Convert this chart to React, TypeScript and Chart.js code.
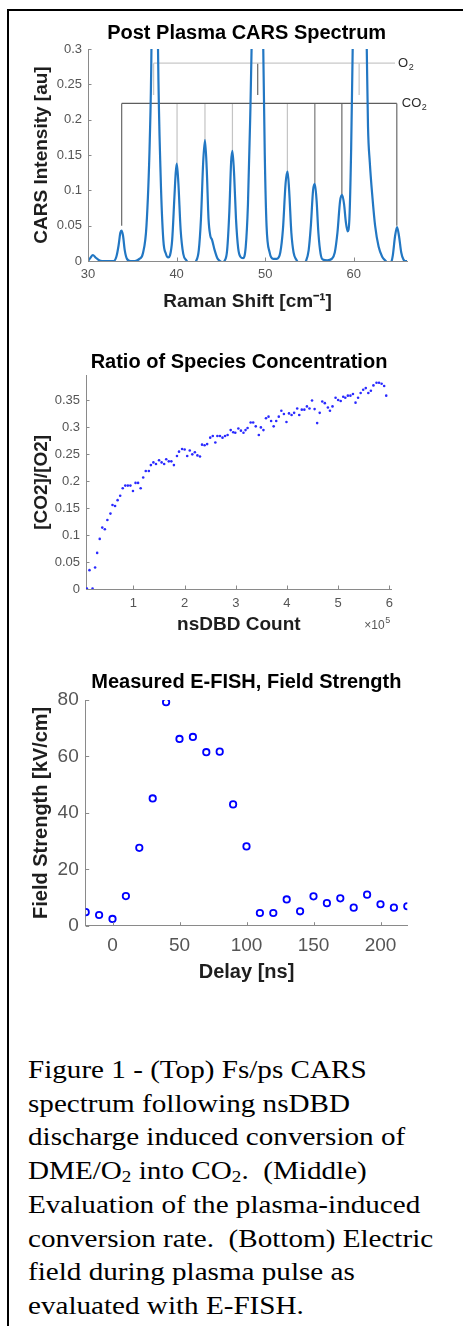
import React, { useEffect, useRef } from "react";
import { Chart, registerables } from "chart.js";

Chart.register(...registerables);

// ---------- Top: CARS spectrum ----------
const SPEC_SHIFT = [
  30.0, 30.25, 30.55, 30.85, 31.2, 31.6, 32.4, 32.9, 33.2, 33.45, 33.65, 33.78, 33.95, 34.15, 34.4, 34.8,
  35.3, 35.8, 36.2, 36.6, 36.97, 37.16, 37.5, 37.9, 38.2, 38.5, 38.8, 39.05, 39.25, 39.5, 39.75, 39.9,
  40.02, 40.2, 40.45, 40.75, 41.1, 41.5, 41.9, 42.2, 42.5, 42.75, 43.0, 43.2, 43.4, 43.6, 43.8, 44.0,
  44.3, 44.6, 44.9, 45.15, 45.4, 45.7, 45.95, 46.15, 46.3, 46.5, 46.7, 46.95, 47.2, 47.5, 47.8, 48.05,
  48.3, 48.46, 49.1, 49.78, 49.95, 50.15, 50.5, 50.9, 51.3, 51.7, 52.0, 52.3, 52.52, 52.7, 52.95, 53.2,
  53.5, 53.9, 54.3, 54.6, 54.9, 55.15, 55.4, 55.6, 55.8, 56.0, 56.25, 56.5, 57.0, 57.5, 57.85, 58.15,
  58.45, 58.68, 58.9, 59.1, 59.3, 59.5, 59.7, 59.87, 60.6, 61.46, 61.6, 61.8, 62.1, 62.4, 62.8, 63.2,
  63.6, 63.9, 64.2, 64.4, 64.65, 64.88, 65.1, 65.35, 65.6, 65.8, 66.0,
];
const SPEC_INTENSITY = [
  0, 0.004, 0.0085, 0.005, 0.0015, 0, 0, 0, 0.006, 0.022, 0.04, 0.043, 0.036, 0.015, 0.003, 0,
  0, 0.003, 0.011, 0.05, 0.17, 0.3, 0.9, 0.3, 0.12, 0.03, 0.01, 0.005, 0.008, 0.03, 0.09, 0.125,
  0.138, 0.11, 0.045, 0.01, 0.001, -0.004, -0.003, 0, 0.015, 0.06, 0.14, 0.171, 0.13, 0.06, 0.036, 0.03,
  0.015, 0.004, 0, -0.002, 0, 0.015, 0.07, 0.14, 0.156, 0.12, 0.06, 0.018, 0.006, 0.004, 0.02, 0.08,
  0.2, 0.3, 1.0, 0.3, 0.15, 0.05, 0.012, 0.003, 0.003, 0.012, 0.045, 0.11, 0.127, 0.1, 0.04, 0.012,
  0.002, -0.004, -0.003, 0, 0.015, 0.05, 0.1, 0.109, 0.085, 0.04, 0.01, 0.002, 0.001, 0.003, 0.012, 0.04,
  0.085, 0.0935, 0.08, 0.055, 0.042, 0.06, 0.16, 0.3, 1.0, 0.3, 0.19, 0.14, 0.09, 0.05, 0.02, 0.006,
  0, -0.004, -0.002, 0.008, 0.035, 0.048, 0.035, 0.012, 0.002, 0, 0,
];
const SPEC_X_TICKS = [30, 40, 50, 60];
const SPEC_Y_TICKS = [0, 0.05, 0.1, 0.15, 0.2, 0.25, 0.3];
const O2_MARKS = [37.4, 49.15, 60.6];
const O2_LEVEL = 0.28;
const O2_DROP = 0.235;
const O2_END = 64.65;
const CO2_MARKS = [33.8, 40.05, 43.2, 46.3, 52.5, 55.6, 58.65, 64.85];
const CO2_TOPS = [0.05, 0.138, 0.171, 0.156, 0.128, 0.11, 0.094, 0.05];
const CO2_LEVEL = 0.223;

// ---------- Middle: ratio of species ----------
const RATIO_COUNT = [
  0.09, 0.14, 0.2, 0.25, 0.29, 0.34, 0.39, 0.44, 0.49, 0.55, 0.59, 0.64, 0.69, 0.74, 0.79, 0.84,
  0.89, 0.94, 0.99, 1.04, 1.09, 1.14, 1.19, 1.24, 1.3, 1.34, 1.39, 1.44, 1.5, 1.55, 1.6, 1.64,
  1.69, 1.74, 1.79, 1.85, 1.89, 1.95, 2.0, 2.05, 2.1, 2.15, 2.2, 2.25, 2.3, 2.34, 2.39, 2.44,
  2.5, 2.55, 2.6, 2.64, 2.69, 2.74, 2.79, 2.84, 2.9, 2.95, 2.99, 3.05, 3.1, 3.15, 3.19, 3.23,
  3.29, 3.34, 3.39, 3.45, 3.49, 3.54, 3.59, 3.64, 3.69, 3.74, 3.79, 3.84, 3.89, 3.94, 3.99, 4.04,
  4.09, 4.14, 4.2, 4.24, 4.29, 4.34, 4.39, 4.44, 4.49, 4.54, 4.59, 4.64, 4.69, 4.74, 4.8, 4.84,
  4.89, 4.95, 5.0, 5.05, 5.1, 5.14, 5.19, 5.24, 5.29, 5.34, 5.39, 5.44, 5.49, 5.54, 5.59, 5.64,
  5.69, 5.75, 5.8, 5.85, 5.9, 5.94,
];
const RATIO_VALUE = [
  0.001, 0.035, 0.001, 0.04, 0.067, 0.093, 0.114, 0.111, 0.128, 0.14, 0.156, 0.154, 0.165, 0.173, 0.187, 0.192,
  0.192, 0.192, 0.182, 0.197, 0.197, 0.187, 0.207, 0.219, 0.219, 0.23, 0.235, 0.232, 0.239, 0.235, 0.232, 0.241,
  0.237, 0.237, 0.23, 0.247, 0.255, 0.26, 0.259, 0.247, 0.257, 0.25, 0.254, 0.248, 0.246, 0.268, 0.267, 0.269,
  0.281, 0.284, 0.272, 0.284, 0.284, 0.281, 0.284, 0.286, 0.295, 0.291, 0.29, 0.298, 0.294, 0.29, 0.295, 0.299,
  0.309, 0.309, 0.302, 0.286, 0.3, 0.295, 0.317, 0.32, 0.312, 0.302, 0.312, 0.32, 0.331, 0.325, 0.31, 0.326,
  0.323, 0.327, 0.335, 0.323, 0.333, 0.333, 0.339, 0.335, 0.35, 0.334, 0.308, 0.327, 0.348, 0.345, 0.337, 0.331,
  0.339, 0.355, 0.351, 0.349, 0.357, 0.355, 0.359, 0.359, 0.362, 0.346, 0.355, 0.364, 0.37, 0.373, 0.364, 0.368,
  0.378, 0.383, 0.383, 0.381, 0.377, 0.359,
];
const RATIO_X_TICKS = [1, 2, 3, 4, 5, 6];
const RATIO_Y_TICKS = [0, 0.05, 0.1, 0.15, 0.2, 0.25, 0.3, 0.35];

// ---------- Bottom: E-FISH ----------
const DELAY_NS = [-20, -10, 0, 10, 20, 30, 40, 50, 60, 70, 80, 90, 100, 110, 120, 130, 140, 150, 160, 170, 180, 190, 200, 210, 220];
const FIELD_KV = [4.8, 3.8, 2.4, 10.5, 27.6, 45.1, 79.2, 66.2, 66.9, 61.5, 61.7, 43.0, 28.1, 4.5, 4.5, 9.3, 5.1, 10.4, 8.0, 9.7, 6.4, 11.0, 7.6, 6.4, 6.9];
const DELAY_TICKS = [0, 50, 100, 150, 200];
const FIELD_TICKS = [0, 20, 40, 60, 80];

const CAPTION_LINES = [
  "Figure 1 - (Top) Fs/ps CARS",
  "spectrum following nsDBD",
  "discharge induced conversion of",
  "DME/O|2| into CO|2|.\u00a0 (Middle)",
  "Evaluation of the plasma-induced",
  "conversion rate.\u00a0 (Bottom) Electric",
  "field during plasma pulse as",
  "evaluated with E-FISH.",
];

const FONT = "'Liberation Sans', Arial, Helvetica, sans-serif";
Chart.defaults.font.family = FONT;

const TICK_C = "#555555";
const AXIS_C = "#8a8a8a";
const LABEL_C = "#1e1e1e";

const fixedTicks = (vals: number[]) => (axis: any) => {
  axis.ticks = vals.map((value) => ({ value }));
};
const setW = (w: number) => (s: any) => {
  s.width = w;
};
const setH = (h: number) => (s: any) => {
  s.height = h;
};

const innerTicks = (len: number) => ({
  id: "innerTicks",
  afterDatasetsDraw(chart: any) {
    const { ctx, chartArea } = chart;
    const xs = chart.scales.x;
    const ys = chart.scales.y;
    ctx.save();
    ctx.strokeStyle = AXIS_C;
    ctx.lineWidth = 1;
    ctx.beginPath();
    xs.ticks.forEach((t: any) => {
      const p = Math.round(xs.getPixelForValue(t.value)) + 0.5;
      ctx.moveTo(p, chartArea.bottom);
      ctx.lineTo(p, chartArea.bottom - len);
    });
    ys.ticks.forEach((t: any) => {
      const p = Math.round(ys.getPixelForValue(t.value)) + 0.5;
      ctx.moveTo(chartArea.left, p);
      ctx.lineTo(chartArea.left + len, p);
    });
    ctx.stroke();
    ctx.restore();
  },
});

function axisX(opt: any) {
  return {
    type: "linear",
    min: opt.min,
    max: opt.max,
    afterBuildTicks: fixedTicks(opt.ticks),
    afterFit: setH(opt.height),
    ticks: { color: TICK_C, font: { size: opt.tickSize }, padding: opt.tickPad, maxRotation: 0, autoSkip: false, callback: (v: any) => String(v) },
    grid: { display: false, drawTicks: false },
    border: { display: true, color: AXIS_C, width: 1 },
    title: { display: true, text: opt.title, color: LABEL_C, font: { size: opt.titleSize, weight: "bold" }, padding: { top: 0, bottom: opt.titlePad } },
  };
}
function axisY(opt: any) {
  return {
    type: "linear",
    position: "left",
    min: opt.min,
    max: opt.max,
    afterBuildTicks: fixedTicks(opt.ticks),
    afterFit: setW(opt.width),
    ticks: { color: TICK_C, font: { size: opt.tickSize }, padding: opt.tickPad, autoSkip: false, callback: (v: any) => String(v) },
    grid: { display: false, drawTicks: false },
    border: { display: true, color: AXIS_C, width: 1 },
    title: { display: true, text: opt.title, color: LABEL_C, font: { size: opt.titleSize, weight: "bold" }, padding: { top: 0, bottom: 0 } },
  };
}
function spacer(w: number) {
  return {
    type: "linear",
    position: "right",
    display: true,
    afterFit: setW(w),
    ticks: { display: false },
    grid: { display: false, drawTicks: false },
    border: { display: false },
  };
}
function titleOpt(text: string, size: number, top: number, bottom: number) {
  return { display: true, text, color: "#000", font: { size, weight: "bold" }, padding: { top, bottom } };
}

function spectrumConfig(): any {
  const seg = (x1: number, y1: number, x2: number, y2: number, color: string, w: number) => ({
    data: [{ x: x1, y: y1 }, { x: x2, y: y2 }],
    borderColor: color,
    borderWidth: w,
    pointRadius: 0,
    tension: 0,
  });
  const o2Shade = ["#c8c8c8", "#707070", "#c8c8c8"];
  const co2Shade = ["#6a6a6a", "#c4c4c4", "#c4c4c4", "#c4c4c4", "#c4c4c4", "#7a7a7a", "#6a6a6a", "#6a6a6a"];
  const datasets: any[] = [
    {
      data: SPEC_SHIFT.map((x, i) => ({ x, y: SPEC_INTENSITY[i] })),
      borderColor: "#2277c3",
      borderWidth: 2.2,
      pointRadius: 0,
      cubicInterpolationMode: "monotone",
    },
    seg(O2_MARKS[0], O2_LEVEL, O2_END, O2_LEVEL, "#c8c8c8", 1.3),
    ...O2_MARKS.map((m, i) => seg(m, O2_LEVEL, m, O2_DROP, o2Shade[i], 1.3)),
    seg(CO2_MARKS[0], CO2_LEVEL, CO2_MARKS[CO2_MARKS.length - 1], CO2_LEVEL, "#5e5e5e", 1.2),
    ...CO2_MARKS.map((m, i) => seg(m, CO2_LEVEL, m, CO2_TOPS[i], co2Shade[i], 1.2)),
  ];
  const speciesLabels = {
    id: "speciesLabels",
    afterDatasetsDraw(chart: any) {
      const { ctx } = chart;
      const xs = chart.scales.x;
      const ys = chart.scales.y;
      const draw = (main: string, x: number, y: number) => {
        ctx.save();
        ctx.fillStyle = "#2a2a2a";
        ctx.textBaseline = "middle";
        ctx.textAlign = "left";
        ctx.font = `13px ${FONT}`;
        ctx.fillText(main, x, y);
        const w = ctx.measureText(main).width;
        ctx.font = `9px ${FONT}`;
        ctx.fillText("2", x + w + 0.5, y + 4);
        ctx.restore();
      };
      draw("O", xs.getPixelForValue(O2_END) + 3, ys.getPixelForValue(O2_LEVEL));
      draw("CO", xs.getPixelForValue(CO2_MARKS[CO2_MARKS.length - 1]) + 5, ys.getPixelForValue(CO2_LEVEL));
    },
  };
  return {
    type: "line",
    data: { datasets },
    options: {
      responsive: false,
      animation: false,
      events: [],
      layout: { padding: { left: 30.3, right: 0, top: 0, bottom: 0 } },
      plugins: {
        legend: { display: false },
        tooltip: { enabled: false },
        title: titleOpt("Post Plasma CARS Spectrum", 20, 21.4, 3.6),
      },
      scales: {
        x: axisX({ min: 30, max: 66, ticks: SPEC_X_TICKS, height: 69, tickSize: 13, tickPad: 6, title: "Raman Shift [cm\u207B\u00B9]", titleSize: 19, titlePad: 16.9 }),
        y: axisY({ min: 0, max: 0.3, ticks: SPEC_Y_TICKS, width: 57.7, tickSize: 13, tickPad: 6, title: "CARS Intensity [au]", titleSize: 19 }),
        yR: spacer(56),
      },
    },
    plugins: [innerTicks(3.5), speciesLabels],
  };
}

function ratioConfig(): any {
  const exponent = {
    id: "exponent",
    afterDraw(chart: any) {
      const { ctx, chartArea } = chart;
      ctx.save();
      ctx.fillStyle = TICK_C;
      ctx.textBaseline = "alphabetic";
      ctx.textAlign = "right";
      ctx.font = `12px ${FONT}`;
      const x = chartArea.right - 7;
      const y = chartArea.bottom + 39.5;
      ctx.fillText("\u00D710", x, y);
      ctx.textAlign = "left";
      ctx.font = `9px ${FONT}`;
      ctx.fillText("5", x + 0.5, y - 6);
      ctx.restore();
    },
  };
  return {
    type: "scatter",
    data: {
      datasets: [
        {
          data: RATIO_COUNT.map((x, i) => ({ x, y: RATIO_VALUE[i] })),
          pointRadius: 1.3,
          pointBackgroundColor: "#2a2aff",
          pointBorderWidth: 0,
          borderWidth: 0,
          showLine: false,
        },
      ],
    },
    options: {
      responsive: false,
      animation: false,
      events: [],
      layout: { padding: { left: 30.3, right: 15.3, top: 0, bottom: 0 } },
      plugins: {
        legend: { display: false },
        tooltip: { enabled: false },
        title: titleOpt("Ratio of Species Concentration", 20, 20, 1.7),
      },
      scales: {
        x: axisX({ min: 0.072, max: 6.047, ticks: RATIO_X_TICKS, height: 51, tickSize: 13, tickPad: 6.5, title: "nsDBD Count", titleSize: 19, titlePad: 3.6 }),
        y: axisY({ min: 0, max: 0.396, ticks: RATIO_Y_TICKS, width: 55.7, tickSize: 13, tickPad: 6, title: "[CO2]/[O2]", titleSize: 19 }),
        yR: spacer(56),
      },
    },
    plugins: [innerTicks(3.5), exponent],
  };
}

function fieldConfig(): any {
  return {
    type: "scatter",
    data: {
      datasets: [
        {
          data: DELAY_NS.map((x, i) => ({ x, y: FIELD_KV[i] })),
          pointRadius: 3.2,
          pointBorderWidth: 1.8,
          pointBorderColor: "#0000ff",
          pointBackgroundColor: "rgba(0,0,0,0)",
          showLine: false,
        },
      ],
    },
    options: {
      responsive: false,
      animation: false,
      events: [],
      layout: { padding: { left: 29.7, right: 0, top: 0, bottom: 0 } },
      plugins: {
        legend: { display: false },
        tooltip: { enabled: false },
        title: titleOpt("Measured E-FISH, Field Strength", 20, 30.3, 5.7),
      },
      scales: {
        x: axisX({ min: -20, max: 220, ticks: DELAY_TICKS, height: 74.3, tickSize: 19, tickPad: 8.6, title: "Delay [ns]", titleSize: 20, titlePad: 15.7 }),
        y: axisY({ min: 0, max: 80, ticks: FIELD_TICKS, width: 56, tickSize: 19, tickPad: 7, title: "Field Strength [kV/cm]", titleSize: 20 }),
        yR: spacer(55.7),
      },
    },
    plugins: [innerTicks(3.5)],
  };
}

function ChartBox({ top, height, build }: { top: number; height: number; build: () => any }) {
  const ref = useRef<HTMLCanvasElement>(null);
  useEffect(() => {
    const chart = new Chart(ref.current as HTMLCanvasElement, build());
    return () => chart.destroy();
  }, []);
  return (
    <canvas
      ref={ref}
      width={463}
      height={height}
      style={{ position: "absolute", left: 0, top, width: 463, height }}
    />
  );
}

function CaptionLine({ text }: { text: string }) {
  const parts = text.split("|");
  return (
    <div>
      {parts.map((p, i) =>
        i % 2 === 1 ? (
          <sub key={i} style={{ fontSize: "0.66em", verticalAlign: "-0.2em", lineHeight: 0 }}>
            {p}
          </sub>
        ) : (
          <span key={i}>{p}</span>
        )
      )}
    </div>
  );
}

export default function App() {
  return (
    <div style={{ position: "absolute", left: 0, top: 0, width: 463, height: 1326, overflow: "hidden", background: "#fff" }}>
      <div style={{ position: "absolute", left: 7, top: 9, width: 456, height: 2, background: "#000" }} />
      <div style={{ position: "absolute", left: 7, top: 9, width: 2, height: 1317, background: "#000" }} />
      <ChartBox top={0} height={330} build={spectrumConfig} />
      <ChartBox top={330} height={310} build={ratioConfig} />
      <ChartBox top={640} height={360} build={fieldConfig} />
      <div
        style={{
          position: "absolute",
          left: 28,
          top: 1053,
          fontFamily: "'Liberation Serif', 'Times New Roman', serif",
          fontSize: 25,
          lineHeight: "33.7px",
          color: "#000",
          whiteSpace: "nowrap",
          transform: "scaleX(1.165)",
          transformOrigin: "0 0",
        }}
      >
        {CAPTION_LINES.map((t, i) => (
          <CaptionLine key={i} text={t} />
        ))}
      </div>
    </div>
  );
}
